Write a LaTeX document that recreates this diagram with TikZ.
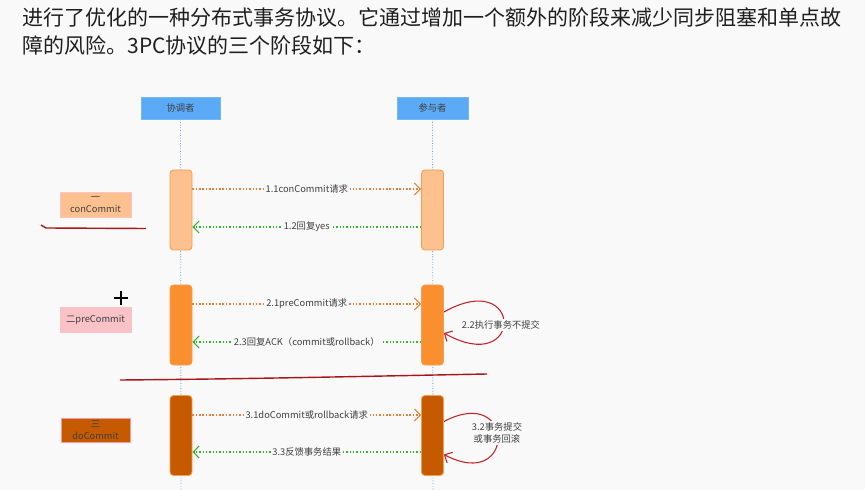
\documentclass[tikz,border=0pt]{standalone}
\usepackage{fontspec}
\setmainfont{Noto Sans CJK SC}
\usetikzlibrary{arrows.meta}
\definecolor{bgc}{HTML}{F9F9F9}
\definecolor{actorblue}{HTML}{5BAAF5}
\definecolor{lifeblue}{HTML}{6FA8E0}
\definecolor{actedge}{HTML}{F2A050}
\definecolor{phaseA}{HTML}{FDC190}
\definecolor{phaseB}{HTML}{FA8F30}
\definecolor{phaseC}{HTML}{C55A00}
\definecolor{pinkbox}{HTML}{F8C2C6}
\definecolor{reqcol}{HTML}{E8803A}
\definecolor{replycol}{HTML}{30BA30}
\definecolor{markred}{HTML}{A8161A}
\definecolor{loopred}{HTML}{C42026}

\begin{document}
\begin{tikzpicture}[x=0.2mm, y=-0.2mm,
  small/.style={font=\fontsize{5.3}{6.7}\selectfont, text=black!75},
  actor/.style={small, fill=actorblue, draw=actorblue!85!white, minimum height=4.4mm, inner sep=0pt},
  life/.style={lifeblue, line width=0.5pt, dash pattern=on 0.5pt off 1pt},
  act/.style={draw=actedge, rounded corners=0.7mm, minimum width=4.4mm, minimum height=16mm, line width=0.5pt},
  phase/.style={small, minimum width=14.2mm, minimum height=5mm, align=center, inner sep=0pt, line width=0.4pt},
  lbl/.style={small, fill=bgc, inner sep=1pt},
  req/.style={reqcol, line width=0.6pt, dash pattern=on 0.8pt off 1.1pt, -{Straight Barb[length=1.2mm, width=2.4mm]}},
  reply/.style={replycol, line width=0.6pt, dash pattern=on 0.8pt off 1.1pt, -{Straight Barb[length=1.2mm, width=2.4mm]}},
  selfloop/.style={loopred, line width=0.6pt, -{Straight Barb[length=1.2mm, width=2.4mm]}},
  redmark/.style={markred, line width=0.8pt}
]
\useasboundingbox (0,0) rectangle (865,490);
\fill[bgc] (0,0) rectangle (865,490);

\node[anchor=base west, align=left, inner sep=0pt, text=black!88,
      font=\fontsize{11.95}{15.9}\selectfont] (intro) at (22,53.3)
  {进行了优化的一种分布式事务协议。它通过增加一个额外的阶段来减少同步阻塞和单点故\\障的风险。3PC协议的三个阶段如下：};

\node[actor, minimum width=15.8mm] (coord) at (180.5,108) {协调者};
\node[actor, minimum width=14.2mm] (part) at (432.5,108) {参与者};
\coordinate (coordEnd) at (181,490);
\coordinate (partEnd) at (433,490);
\draw[life] (coord.south) -- (coordEnd);
\draw[life] (part.south) -- (partEnd);

\node[act, fill=phaseA] (c1) at (181,210) {};
\node[act, fill=phaseA] (p1) at (432.5,210) {};
\node[act, fill=phaseB] (c2) at (181,325) {};
\node[act, fill=phaseB] (p2) at (432.5,325) {};
\node[act, fill=phaseC] (c3) at (181,435.5) {};
\node[act, fill=phaseC] (p3) at (432.5,435.5) {};

\node[phase, fill=phaseA, draw=pinkbox] (ph1) at (95.5,204.5) {一\\conCommit};
\node[phase, fill=pinkbox, draw=pinkbox] (ph2) at (95.5,319.5) {二preCommit};
\node[phase, fill=phaseC, draw=pinkbox!80!red, minimum width=13.8mm, minimum height=4.8mm] (ph3) at (95.5,430) {三\\doCommit};

\draw[req] ([yshift=4.2mm]c1.east) -- node[lbl] {1.1conCommit请求} ([yshift=4.2mm]p1.west);
\draw[reply] ([yshift=-3.4mm]p1.west) -- node[lbl] {1.2回复yes} ([yshift=-3.4mm]c1.east);
\draw[req] ([yshift=4.2mm]c2.east) -- node[lbl] {2.1preCommit请求} ([yshift=4.2mm]p2.west);
\draw[reply] ([yshift=-3.4mm]p2.west) -- node[lbl] {2.3回复ACK（commit或rollback）} ([yshift=-3.4mm]c2.east);
\draw[req] ([yshift=4.1mm]c3.east) -- node[lbl] {3.1doCommit或rollback请求} ([yshift=4.1mm]p3.west);
\draw[reply] ([yshift=-3.3mm]p3.west) -- node[lbl] {3.3反馈事务结果} ([yshift=-3.3mm]c3.east);

\draw[selfloop] ([yshift=2.6mm]p2.east) .. controls +(80,-45) and +(80,45) .. ([yshift=-1.6mm]p2.east);
\node[lbl] (do2) at (501,325) {2.2执行事务不提交};
\draw[selfloop] ([yshift=2.8mm]p3.east) .. controls +(72,-38) and +(72,38) .. ([yshift=-3.8mm]p3.east);
\node[lbl, align=center] (do3) at (497,433) {3.2事务提交\\或事务回滚};

\draw[redmark] (41,225) -- (46,228) -- (146,228.5);
\draw[redmark] (120,380) .. controls (250,379) and (380,376) .. (487,374);
\draw[line width=0.6pt] (114,298) -- (128,298) (121,291) -- (121,305);
\end{tikzpicture}
\end{document}
